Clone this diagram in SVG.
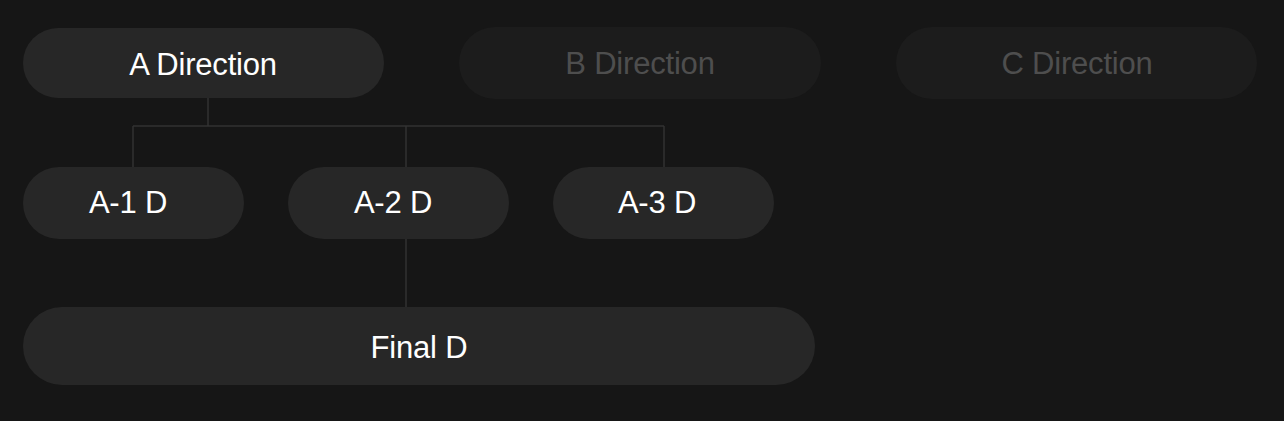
<svg xmlns="http://www.w3.org/2000/svg" width="1284" height="421" viewBox="0 0 1284 421">
<style>
.n{fill:#272727}
.d{fill:#1c1c1c}
.t{font-family:"Liberation Sans",Arial,sans-serif;font-size:31px;fill:#ffffff;text-anchor:middle;letter-spacing:-0.2px}
.td{fill:#4e4e4e}
.c{stroke:#323232;stroke-width:1.5;fill:none}
</style>
<rect width="1284" height="421" fill="#161616"/>
<g id="connectors">
<path class="c" d="M208 98V126M133 126H664M133 126V167M406 126V167M664 126V167M406 239V307"/>
</g>
<g id="a-direction"><rect class="n" x="23" y="28" width="361" height="70" rx="35"/><text class="t" x="203" y="75">A Direction</text></g>
<g id="b-direction"><rect class="d" x="459" y="27" width="362" height="72" rx="36"/><text class="t td" x="640" y="74">B Direction</text></g>
<g id="c-direction"><rect class="d" x="896" y="27" width="361" height="72" rx="36"/><text class="t td" x="1077" y="74">C Direction</text></g>
<g id="a1"><rect class="n" x="23" y="167" width="221" height="72" rx="36"/><text class="t" x="128" y="213">A-1 D</text></g>
<g id="a2"><rect class="n" x="288" y="167" width="221" height="72" rx="36"/><text class="t" x="393" y="213">A-2 D</text></g>
<g id="a3"><rect class="n" x="553" y="167" width="221" height="72" rx="36"/><text class="t" x="657" y="213">A-3 D</text></g>
<g id="final"><rect class="n" x="23" y="307" width="792" height="78" rx="39"/><text class="t" x="419" y="358">Final D</text></g>
</svg>
